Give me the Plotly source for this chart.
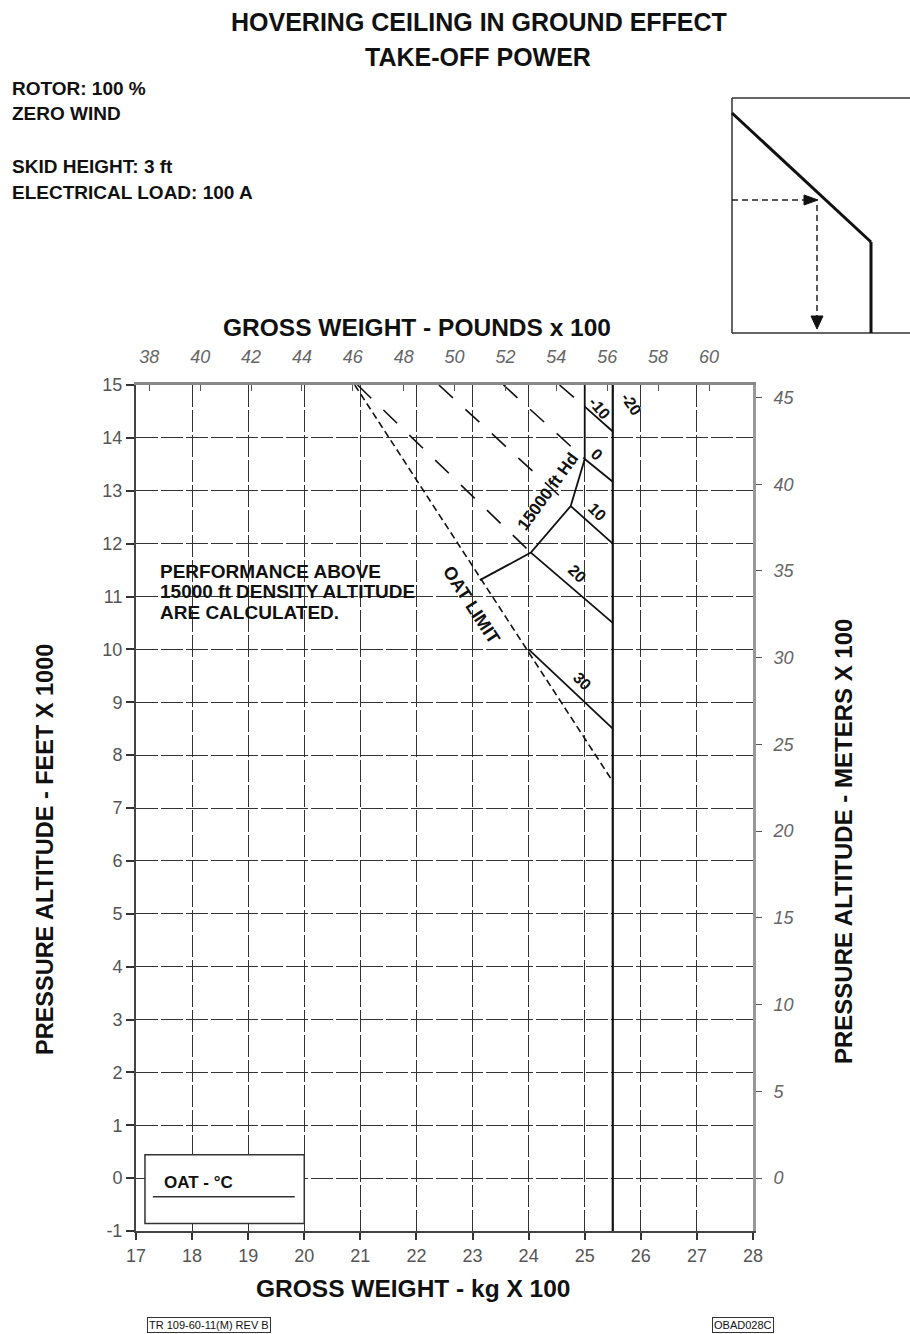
import plotly.graph_objects as go

# ---- axis scales -------------------------------------------------------
kg_ticks = list(range(17, 29))          # gross weight, kg x 100
ft_ticks = list(range(-1, 16))          # pressure altitude, ft x 1000
lb_ticks = list(range(38, 61, 2))       # gross weight, lb x 100
m_ticks = list(range(0, 46, 5))         # pressure altitude, m x 100
KG_TO_LB = 2.20462
KFT_TO_HM = 3.048

# ---- chart lines (kg x 100, ft x 1000) ----------------------------------
oat_limit_kg = [20.9, 25.5]
oat_limit_ft = [15.0, 7.5]

max_weight_kg = [25.5, 25.5]
max_weight_ft = [-1.0, 15.0]

hd15000_kg = [23.13, 24.04, 24.75, 25.0, 25.0]
hd15000_ft = [11.31, 11.83, 12.71, 13.6, 15.0]

# OAT curves, solid part (below 15000 ft density altitude)
oat_m10_kg, oat_m10_ft = [25.0, 25.5], [14.59, 14.12]
oat_0_kg, oat_0_ft = [25.0, 25.5], [13.6, 13.17]
oat_10_kg, oat_10_ft = [24.75, 25.5], [12.71, 12.0]
oat_20_kg, oat_20_ft = [24.04, 25.5], [11.83, 10.5]
oat_30_kg, oat_30_ft = [24.0, 25.5], [10.0, 8.5]

# OAT curves, calculated part (above 15000 ft density altitude)
calc_m10_kg, calc_m10_ft = [24.55, 25.0], [15.0, 14.59]
calc_0_kg, calc_0_ft = [23.55, 25.0], [15.0, 13.6]
calc_10_kg, calc_10_ft = [22.40, 24.75], [15.0, 12.71]
calc_20_kg, calc_20_ft = [20.95, 24.04], [15.0, 11.83]

# ---- page geometry (pixels) --------------------------------------------
W, H = 910, 1334
L, R, T, B = 136, 753, 385, 1231


def px(x):
    return (x - L) / (R - L)


def py(y):
    return (B - y) / (B - T)


FONT = "Liberation Sans, Arial, sans-serif"
BLACK = "#111111"

fig = go.Figure()


def add_line(xs, ys, width=2.0, dash="solid", color=BLACK):
    fig.add_trace(go.Scatter(x=xs, y=ys, mode="lines",
                             line=dict(color=color, width=width, dash=dash),
                             hoverinfo="skip", showlegend=False))


add_line(max_weight_kg, max_weight_ft, width=2.2)
add_line(oat_limit_kg, oat_limit_ft, width=1.6, dash="7px,4px")
add_line(hd15000_kg, hd15000_ft, width=1.8)
for xs, ys in [(oat_m10_kg, oat_m10_ft), (oat_0_kg, oat_0_ft),
               (oat_10_kg, oat_10_ft), (oat_20_kg, oat_20_ft),
               (oat_30_kg, oat_30_ft)]:
    add_line(xs, ys, width=1.8)
for xs, ys in [(calc_m10_kg, calc_m10_ft), (calc_0_kg, calc_0_ft),
               (calc_10_kg, calc_10_ft), (calc_20_kg, calc_20_ft)]:
    add_line(xs, ys, width=1.6, dash="19px,17px")

# secondary scales (pounds on top, metres on the right)
fig.add_trace(go.Scatter(x=[lb_ticks[0], lb_ticks[-1]], y=[m_ticks[0], m_ticks[-1]],
                         xaxis="x2", yaxis="y2", mode="markers",
                         marker=dict(opacity=0), hoverinfo="skip", showlegend=False))

tick_font = dict(family=FONT, size=18, color="#555555")
grid = dict(showgrid=True, gridcolor="#333333", gridwidth=1.4, griddash="22px,3px",
            zeroline=False)

fig.update_layout(
    width=W, height=H,
    margin=dict(l=L, r=W - R, t=T, b=H - B),
    paper_bgcolor="white", plot_bgcolor="white",
    xaxis=dict(range=[kg_ticks[0], kg_ticks[-1]], tickvals=kg_ticks,
               ticktext=[str(v) for v in kg_ticks],
               ticks="outside", ticklen=7, tickwidth=1.5, tickcolor="#333",
               showline=True, linecolor="#444", linewidth=2,
               tickfont=tick_font, **grid),
    yaxis=dict(range=[ft_ticks[0], ft_ticks[-1]], tickvals=ft_ticks,
               ticktext=[str(v) for v in ft_ticks],
               ticks="outside", ticklen=8, tickwidth=1.5, tickcolor="#333",
               showline=True, linecolor="#444", linewidth=2,
               tickfont=tick_font, **grid),
    xaxis2=dict(range=[kg_ticks[0] * KG_TO_LB, kg_ticks[-1] * KG_TO_LB],
                tickvals=lb_ticks, overlaying="x", side="top", anchor="y2",
                ticks="inside", ticklen=6, tickwidth=1.3, tickcolor="#555",
                showline=True, linecolor="#888", linewidth=2.5,
                showgrid=False, zeroline=False, ticklabelstandoff=12,
                tickfont=dict(family=FONT, size=18, color="#666", style="italic")),
    yaxis2=dict(range=[ft_ticks[0] * KFT_TO_HM, ft_ticks[-1] * KFT_TO_HM],
                tickvals=m_ticks, overlaying="y", side="right", anchor="x2",
                ticks="outside", ticklen=6, tickwidth=1.3, tickcolor="#555",
                showline=True, linecolor="#999", linewidth=3,
                showgrid=False, zeroline=False, ticklabelstandoff=8,
                tickfont=dict(family=FONT, size=18, color="#666", style="italic")),
)

ann = []


def text(x, y, s, size, ref="paper", angle=0, xanchor="center", color=BLACK,
         weight=700, **kw):
    a = dict(x=x, y=y, text=s, showarrow=False, textangle=angle,
             xanchor=xanchor, yanchor="middle",
             font=dict(family=FONT, size=size, color=color, weight=weight))
    if ref == "paper":
        a.update(xref="paper", yref="paper")
    else:
        a.update(xref="x", yref="y")
    a.update(kw)
    ann.append(a)


# titles
text(px(479), py(22), "HOVERING CEILING IN GROUND EFFECT", 25)
text(px(478), py(57), "TAKE-OFF POWER", 25)

# conditions
for ypix, s in [(88, "ROTOR: 100 %"), (113, "ZERO WIND"),
                (167, "SKID HEIGHT: 3 ft"), (193, "ELECTRICAL LOAD: 100 A")]:
    text(px(10), py(ypix), s, 19, xanchor="left")

# axis titles
text(px(417), py(327), "GROSS WEIGHT - POUNDS x 100", 24.5)
text(px(413), py(1288), "GROSS WEIGHT - kg X 100", 24.5)
text(px(45), py(850), "PRESSURE ALTITUDE - FEET X 1000", 23.5, angle=-90)
text(px(843), py(842), "PRESSURE ALTITUDE - METERS X 100", 24, angle=-90)

# curve labels
text(25.27, 14.56, "-10", 16, ref="data", angle=50)
text(25.84, 14.64, "-20", 16, ref="data", angle=55)
text(25.21, 13.68, "0", 16, ref="data", angle=45)
text(25.21, 12.60, "10", 16, ref="data", angle=45)
text(24.86, 11.43, "20", 16, ref="data", angle=45)
text(24.96, 9.39, "30", 16, ref="data", angle=45)
text(24.35, 12.98, "15000 ft Hd", 17, ref="data", angle=-54)
text(22.98, 10.84, "OAT LIMIT", 18, ref="data", angle=57)

# note
for yv, s in [(11.47, "PERFORMANCE ABOVE"), (11.09, "15000 ft DENSITY ALTITUDE"),
              (10.69, "ARE CALCULATED.")]:
    text(17.39, yv, s, 19, ref="data", xanchor="left")

# legend box label
text(17.46, -0.08, "OAT - °C", 17, ref="data", xanchor="left")

# document references
text(px(209), py(1325), "TR 109-60-11(M) REV B", 11, weight=400,
     bordercolor="#333", borderwidth=1, borderpad=1)
text(px(743), py(1325), "OBAD028C", 11, weight=400,
     bordercolor="#333", borderwidth=1, borderpad=1)

fig.update_layout(annotations=ann)

shapes = []
# legend box
shapes.append(dict(type="rect", xref="x", yref="y", x0=17.16, x1=20.0, y0=-0.86, y1=0.44,
                   line=dict(color="#333", width=1.5), fillcolor="white", layer="above"))
shapes.append(dict(type="line", xref="x", yref="y", x0=17.30, x1=19.83, y0=-0.35, y1=-0.35,
                   line=dict(color="#333", width=1.5), layer="above"))


# how-to-read sketch (top right)
def pline(x0, y0, x1, y1, width=1.5, color="#333", dash="solid"):
    shapes.append(dict(type="line", xref="paper", yref="paper",
                       x0=px(x0), y0=py(y0), x1=px(x1), y1=py(y1),
                       line=dict(color=color, width=width, dash=dash)))


def ppath(points, color=BLACK):
    d = "M " + " L ".join(f"{px(a):.5f},{py(b):.5f}" for a, b in points) + " Z"
    shapes.append(dict(type="path", xref="paper", yref="paper", path=d,
                       fillcolor=color, line=dict(color=color, width=1)))


pline(732, 98, 912, 98)
pline(732, 98, 732, 333)
pline(732, 333, 912, 333)
pline(732, 113, 871, 242, width=3, color=BLACK)
pline(871, 242, 871, 333, width=3, color=BLACK)
pline(732, 200, 806, 200, width=1.5, color="#222", dash="6px,4px")
pline(817, 205, 817, 316, width=1.5, color="#222", dash="6px,4px")
ppath([(818, 200), (804, 195), (804, 205)])
ppath([(817, 329), (811, 316), (823, 316)])

fig.update_layout(shapes=shapes)

fig.write_html("out.html")
